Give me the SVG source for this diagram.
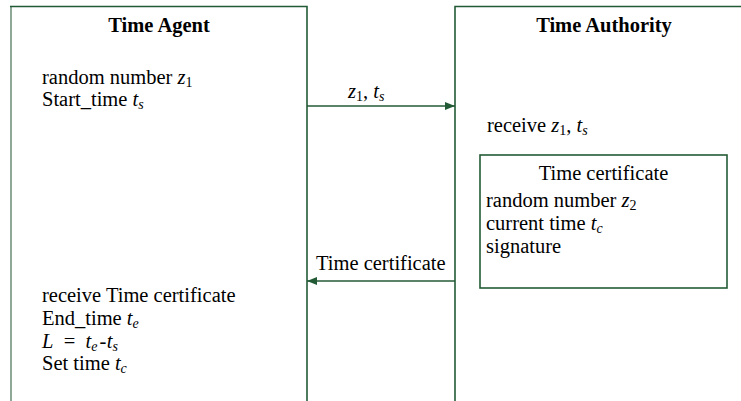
<svg xmlns="http://www.w3.org/2000/svg" width="741" height="401" viewBox="0 0 741 401">
  <style>
    text { font-family: 'Liberation Serif', 'Times New Roman', Times, 'DejaVu Serif', serif; font-size: 20.5px; fill: #000; }
    .title { font-weight: bold; text-anchor: middle; }
    .mid { text-anchor: middle; }
    .i { font-style: italic; }
    .sub { font-size: 14px; }
    .frame { fill: none; stroke: #235a36; stroke-width: 1.6; }
    .edge { fill: none; stroke: #8ea797; stroke-width: 2; }
    .link { fill: none; stroke: #235a36; stroke-width: 1.6; }
  </style>
  <defs>
    <marker id="arrow" viewBox="0 0 10 10" refX="10" refY="5" markerWidth="10" markerHeight="10" markerUnits="userSpaceOnUse" orient="auto">
      <path d="M0,1 L10,5 L0,9 Z" fill="#235a36"/>
    </marker>
  </defs>

  <!-- Time Agent lifeline box (open at the bottom) -->
  <g id="time-agent">
    <path class="edge" d="M11,401 V6.5"/>
    <path class="frame" d="M10,6.5 H307 V401"/>
    <text class="title" x="159" y="32">Time Agent</text>
    <text x="42" y="84">random number <tspan class="i">z</tspan><tspan class="sub" dy="3">1</tspan></text>
    <text x="42" y="106">Start_time <tspan class="i">t</tspan><tspan class="i sub" dy="3">s</tspan></text>
    <text x="42" y="302">receive Time certificate</text>
    <text x="42" y="325">End_time <tspan class="i">t</tspan><tspan class="i sub" dy="3">e</tspan></text>
    <text x="42" y="348"><tspan class="i">L</tspan>&#160;&#160;=&#160;&#160;<tspan class="i">t</tspan><tspan class="i sub" dy="3">e</tspan><tspan dx="2" dy="-3">-</tspan><tspan class="i" dx="0.5">t</tspan><tspan class="i sub" dy="3">s</tspan></text>
    <text x="42" y="370">Set time <tspan class="i">t</tspan><tspan class="i sub" dy="3">c</tspan></text>
  </g>

  <!-- Time Authority lifeline box (runs past the right edge) -->
  <g id="time-authority">
    <path class="frame" d="M455,401 V6.5 H745"/>
    <text class="title" x="604" y="32">Time Authority</text>
    <text x="487" y="132">receive <tspan class="i">z</tspan><tspan class="sub" dy="3">1</tspan><tspan dy="-3">, </tspan><tspan class="i">t</tspan><tspan class="i sub" dy="3">s</tspan></text>
  </g>

  <!-- certificate issued by the authority -->
  <g id="time-certificate">
    <rect class="frame" x="480" y="155" width="247" height="133"/>
    <text class="mid" x="603.5" y="180">Time certificate</text>
    <text x="486" y="207">random number <tspan class="i">z</tspan><tspan class="sub" dy="3">2</tspan></text>
    <text x="486" y="230">current time <tspan class="i">t</tspan><tspan class="i sub" dy="3">c</tspan></text>
    <text x="486" y="253">signature</text>
  </g>

  <!-- messages -->
  <g id="connectors">
    <g id="msg-request">
      <path class="link" d="M307,106 H455" marker-end="url(#arrow)"/>
      <text x="348" y="98"><tspan class="i">z</tspan><tspan class="sub" dy="3">1</tspan><tspan dy="-3">, </tspan><tspan class="i">t</tspan><tspan class="i sub" dy="3">s</tspan></text>
    </g>
    <g id="msg-certificate">
      <path class="link" d="M455,281 H307" marker-end="url(#arrow)"/>
      <text x="316" y="270">Time certificate</text>
    </g>
  </g>
</svg>
